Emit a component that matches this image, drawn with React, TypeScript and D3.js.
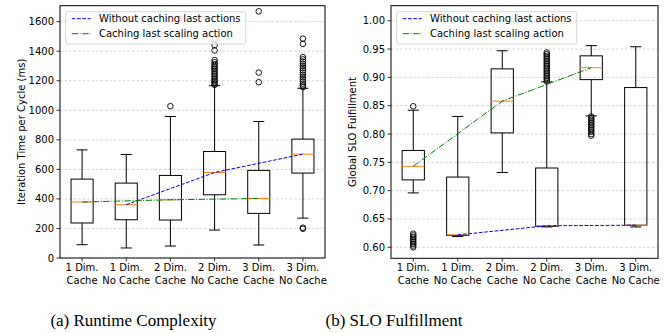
import React from "react";
import * as d3 from "d3";

const categories = [
  ["1 Dim.", "Cache"],
  ["1 Dim.", "No Cache"],
  ["2 Dim.", "Cache"],
  ["2 Dim.", "No Cache"],
  ["3 Dim.", "Cache"],
  ["3 Dim.", "No Cache"],
];

// Runtime panel (ms)
const rtLow = [90, 68, 81, 189, 88, 270];
const rtQ1 = [237, 259, 257, 428, 302, 575];
const rtMed = [379, 361, 394, 579, 403, 703];
const rtQ3 = [534, 507, 559, 721, 593, 805];
const rtHigh = [732, 701, 958, 1167, 924, 1149];
const rtOutliers = [
  [],
  [],
  [1028],
  [1481, 1440, 1405, 1340, 1325, 1312, 1300, 1290, 1280, 1268, 1256, 1245, 1234, 1222, 1210, 1200, 1190, 1180, 1172],
  [1670, 1255, 1190],
  [1485, 1450, 1360, 1345, 1330, 1315, 1300, 1285, 1270, 1255, 1240, 1225, 1210, 1195, 1180, 1168, 1157, 205, 198],
];
const rtTicks = [0, 200, 400, 600, 800, 1000, 1200, 1400, 1600];

// SLO panel
const sloLow = [0.696, 0.619, 0.732, 0.636, 0.832, 0.636];
const sloQ1 = [0.719, 0.621, 0.802, 0.637, 0.896, 0.639];
const sloMed = [0.743, 0.622, 0.858, 0.638, 0.917, 0.639];
const sloQ3 = [0.771, 0.724, 0.915, 0.74, 0.938, 0.882];
const sloHigh = [0.842, 0.831, 0.947, 0.892, 0.956, 0.954];
const sloOutliers = [
  [0.849, 0.624, 0.621, 0.618, 0.615, 0.612, 0.609, 0.606, 0.603, 0.6],
  [],
  [],
  [0.944, 0.941, 0.938, 0.935, 0.932, 0.929, 0.926, 0.923, 0.92, 0.917, 0.914, 0.911, 0.908, 0.905, 0.902, 0.899, 0.896, 0.893],
  [0.831, 0.828, 0.825, 0.822, 0.819, 0.816, 0.813, 0.81, 0.807, 0.804, 0.8, 0.797],
  [],
];
const sloTicks = [0.6, 0.65, 0.7, 0.75, 0.8, 0.85, 0.9, 0.95, 1.0];

const legendLabels = ["Without caching last actions", "Caching last scaling action"];
const cacheIdx = [0, 2, 4];
const noCacheIdx = [1, 3, 5];

const FONT = "DejaVu Sans, sans-serif";

type PanelProps = {
  left: number;
  right: number;
  top: number;
  bottom: number;
  yDomain: [number, number];
  ticks: number[];
  fmt: (v: number) => string;
  low: number[];
  q1: number[];
  med: number[];
  q3: number[];
  high: number[];
  outliers: number[][];
  ylabel: string;
  caption: string;
};

function Panel(p: PanelProps) {
  const x = d3.scaleLinear().domain([0.5, 6.5]).range([p.left, p.right]);
  const y = d3.scaleLinear().domain(p.yDomain).range([p.bottom, p.top]);
  const unit = x(2) - x(1);
  const bw = unit * 0.5;
  const cw = unit * 0.25;
  const line = d3
    .line<number>()
    .x((i) => x(i + 1))
    .y((i) => y(p.med[i]));
  const legX = p.left + 5.7;
  const legY = 11.7;
  return (
    <g>
      {/* grid */}
      {p.ticks.map((t) => (
        <line
          key={"g" + t}
          x1={p.left}
          x2={p.right}
          y1={y(t)}
          y2={y(t)}
          stroke="#b0b0b0"
          strokeOpacity={0.7}
          strokeWidth={0.8}
          strokeDasharray="2.5,2"
        />
      ))}
      {/* boxes */}
      {categories.map((_, i) => {
        const cx = x(i + 1);
        return (
          <g key={"b" + i}>
            <line x1={cx} x2={cx} y1={y(p.q3[i])} y2={y(p.high[i])} stroke="#000" strokeWidth={1} />
            <line x1={cx} x2={cx} y1={y(p.q1[i])} y2={y(p.low[i])} stroke="#000" strokeWidth={1} />
            <line x1={cx - cw / 2} x2={cx + cw / 2} y1={y(p.high[i])} y2={y(p.high[i])} stroke="#000" strokeWidth={1} />
            <line x1={cx - cw / 2} x2={cx + cw / 2} y1={y(p.low[i])} y2={y(p.low[i])} stroke="#000" strokeWidth={1} />
            <rect
              x={cx - bw / 2}
              y={y(p.q3[i])}
              width={bw}
              height={y(p.q1[i]) - y(p.q3[i])}
              fill="none"
              stroke="#000"
              strokeWidth={1}
            />
            <line x1={cx - bw / 2} x2={cx + bw / 2} y1={y(p.med[i])} y2={y(p.med[i])} stroke="#ff7f0e" strokeWidth={1} />
            {p.outliers[i].map((v, j) => (
              <circle key={j} cx={cx} cy={y(v)} r={2.8} fill="none" stroke="#000" strokeWidth={0.9} />
            ))}
          </g>
        );
      })}
      {/* median lines */}
      <path d={line(noCacheIdx) || ""} fill="none" stroke="#0000ff" strokeWidth={1} strokeDasharray="3.7,1.6" />
      <path d={line(cacheIdx) || ""} fill="none" stroke="#008000" strokeWidth={1} strokeDasharray="6.4,1.6,1,1.6" />
      {/* frame */}
      <rect x={p.left} y={p.top} width={p.right - p.left} height={p.bottom - p.top} fill="none" stroke="#000" strokeWidth={1} />
      {/* y ticks */}
      {p.ticks.map((t) => (
        <g key={"t" + t}>
          <line x1={p.left - 3.5} x2={p.left} y1={y(t)} y2={y(t)} stroke="#000" strokeWidth={0.8} />
          <text x={p.left - 6} y={y(t)} dy="0.35em" textAnchor="end" fontSize={10} fontFamily={FONT} fill="#000">
            {p.fmt(t)}
          </text>
        </g>
      ))}
      {/* x ticks */}
      {categories.map((c, i) => (
        <g key={"x" + i}>
          <line x1={x(i + 1)} x2={x(i + 1)} y1={p.bottom} y2={p.bottom + 3.5} stroke="#000" strokeWidth={0.8} />
          <text x={x(i + 1)} y={271} textAnchor="middle" fontSize={10} fontFamily={FONT} fill="#000">
            {c[0]}
          </text>
          <text x={x(i + 1)} y={283.5} textAnchor="middle" fontSize={10} fontFamily={FONT} fill="#000">
            {c[1]}
          </text>
        </g>
      ))}
      {/* y label */}
      <text
        transform={`translate(${p.left - 35},${(p.top + p.bottom) / 2}) rotate(-90)`}
        textAnchor="middle"
        fontSize={10}
        fontFamily={FONT}
        fill="#000"
      >
        {p.ylabel}
      </text>
      {/* legend */}
      <rect x={legX} y={legY} width={180} height={32.3} rx={2} fill="#fff" fillOpacity={0.8} stroke="#cccccc" strokeWidth={0.8} />
      <line x1={legX + 6} x2={legX + 25} y1={18.7} y2={18.7} stroke="#0000ff" strokeWidth={1} strokeDasharray="3.7,1.6" />
      <line x1={legX + 6} x2={legX + 25} y1={33.7} y2={33.7} stroke="#008000" strokeWidth={1} strokeDasharray="6.4,1.6,1,1.6" />
      <text x={legX + 33.3} y={22.4} fontSize={10} fontFamily={FONT} fill="#000">
        {legendLabels[0]}
      </text>
      <text x={legX + 33.3} y={37.3} fontSize={10} fontFamily={FONT} fill="#000">
        {legendLabels[1]}
      </text>
      {/* caption */}
      <text
        x={p.caption.startsWith("(a)") ? 133.5 : 394}
        y={326}
        textAnchor="middle"
        fontSize={17}
        fontFamily="Liberation Serif, Times New Roman, serif"
        fill="#000"
      >
        {p.caption}
      </text>
    </g>
  );
}

export default function App() {
  return (
    <svg
      width={667}
      height={333}
      style={{ position: "absolute", left: 0, top: 0, background: "#fff" }}
    >
      <rect width={667} height={333} fill="#fff" />
      <Panel
        left={60}
        right={325}
        top={5.7}
        bottom={258}
        yDomain={[0, 1708]}
        ticks={rtTicks}
        fmt={(v) => String(v)}
        low={rtLow}
        q1={rtQ1}
        med={rtMed}
        q3={rtQ3}
        high={rtHigh}
        outliers={rtOutliers}
        ylabel="Iteration Time per Cycle (ms)"
        caption="(a) Runtime Complexity"
      />
      <Panel
        left={391}
        right={658}
        top={5.7}
        bottom={258.3}
        yDomain={[0.5806, 1.0265]}
        ticks={sloTicks}
        fmt={(v) => v.toFixed(2)}
        low={sloLow}
        q1={sloQ1}
        med={sloMed}
        q3={sloQ3}
        high={sloHigh}
        outliers={sloOutliers}
        ylabel="Global SLO Fulfillment"
        caption="(b) SLO Fulfillment"
      />
    </svg>
  );
}
